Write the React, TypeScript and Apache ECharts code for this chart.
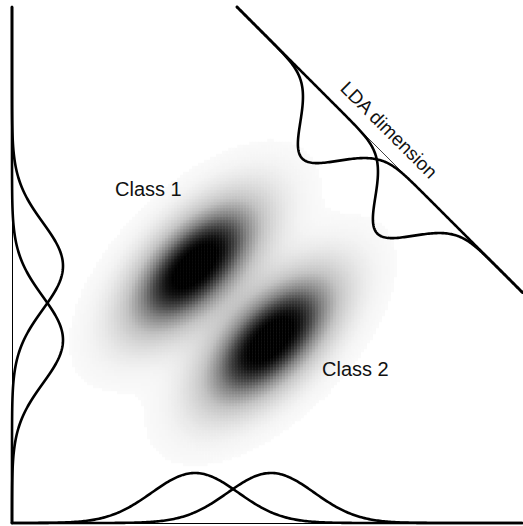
import { useEffect, useRef } from "react";
import * as echarts from "echarts";

// ---------- data ----------
const CLASS_LABELS = ["Class 1", "Class 2"];
const LDA_LABEL = "LDA dimension";
// class centres in the feature plane (plot units)
const MEAN_X = [183, 259];
const MEAN_Y = [257, 183];
// shared within-class spread: s.d. along the (1,1) and (1,-1) principal directions
const SD_MAJOR = [55];
const SD_MINOR = [27];
// peak heights of the drawn marginal densities
const PEAK_BOTTOM = [50];
const PEAK_LEFT = [51];
const PEAK_LDA = [61];
// end points of the LDA dimension line
const LDA_X = [225, 511];
const LDA_Y = [516, 230];
// axis extents
const X_RANGE = [0, 511];
const Y_RANGE = [0, 516];
// grey ramp of the density image: density -> grey level
const RAMP_D = [0.015, 0.05, 0.12, 0.3, 0.5, 0.65, 0.8, 0.88];
const RAMP_G = [250, 244, 230, 194, 130, 70, 18, 0];

// ---------- helpers ----------
const R2 = Math.SQRT1_2;
const sM = SD_MAJOR[0];
const sm = SD_MINOR[0];
const sdAxis = Math.sqrt((sM * sM + sm * sm) / 2);

function density2d(k: number, X: number, Y: number) {
  const dx = X - MEAN_X[k];
  const dy = Y - MEAN_Y[k];
  const a = (dx + dy) * R2;
  const b = (dx - dy) * R2;
  return Math.exp(-0.5 * ((a * a) / (sM * sM) + (b * b) / (sm * sm)));
}
function gauss(v: number, mu: number, sd: number) {
  const z = (v - mu) / sd;
  return Math.exp(-0.5 * z * z);
}
function greyAt(d: number) {
  if (d <= RAMP_D[0]) return RAMP_G[0];
  for (let i = 1; i < RAMP_D.length; i++) {
    if (d <= RAMP_D[i]) {
      const t = (d - RAMP_D[i - 1]) / (RAMP_D[i] - RAMP_D[i - 1]);
      return RAMP_G[i - 1] + t * (RAMP_G[i] - RAMP_G[i - 1]);
    }
  }
  return RAMP_G[RAMP_G.length - 1];
}

function buildOption() {
  // heat map cells
  const NX = 170;
  const NY = 172;
  const cw = (X_RANGE[1] - X_RANGE[0]) / NX;
  const ch = (Y_RANGE[1] - Y_RANGE[0]) / NY;
  const heat: number[][] = [];
  for (let i = 0; i < NX; i++) {
    const X = X_RANGE[0] + (i + 0.5) * cw;
    for (let j = 0; j < NY; j++) {
      const Y = Y_RANGE[0] + (j + 0.5) * ch;
      const d = density2d(0, X, Y) + density2d(1, X, Y);
      if (d >= RAMP_D[0]) heat.push([i, j, d]);
    }
  }
  const xCats = Array.from({ length: NX }, (_, i) => String(i));
  const yCats = Array.from({ length: NY }, (_, j) => String(j));

  const vmMin = RAMP_D[0];
  const vmMax = 1.1;
  const colors: string[] = [];
  const NC = 120;
  for (let k = 0; k < NC; k++) {
    const d = vmMin + ((vmMax - vmMin) * k) / (NC - 1);
    const g = Math.round(greyAt(d));
    colors.push(`rgb(${g},${g},${g})`);
  }

  // marginal curves
  const bottom: number[][][] = [[], []];
  const left: number[][][] = [[], []];
  for (let k = 0; k < 2; k++) {
    for (let X = X_RANGE[0]; X <= X_RANGE[1]; X += 1.5) {
      bottom[k].push([X, PEAK_BOTTOM[0] * gauss(X, MEAN_X[k], sdAxis)]);
    }
    for (let Y = Y_RANGE[0]; Y <= Y_RANGE[1]; Y += 1.5) {
      left[k].push([PEAK_LEFT[0] * gauss(Y, MEAN_Y[k], sdAxis), Y]);
    }
  }

  // LDA projection
  const ux0 = LDA_X[1] - LDA_X[0];
  const uy0 = LDA_Y[1] - LDA_Y[0];
  const L = Math.hypot(ux0, uy0);
  const u = [ux0 / L, uy0 / L];
  const n = [u[1], -u[0]];
  // s.d. of projections on u
  const pv = (u[0] + u[1]) * R2;
  const pw = (u[0] - u[1]) * R2;
  const sdLda = Math.sqrt(sM * sM * pv * pv + sm * sm * pw * pw);
  const sMean = [0, 1].map(
    (k) => (MEAN_X[k] - LDA_X[0]) * u[0] + (MEAN_Y[k] - LDA_Y[0]) * u[1]
  );
  const lda: number[][][] = [[], []];
  for (let k = 0; k < 2; k++) {
    for (let s = 0; s <= L; s += 1) {
      const h = PEAK_LDA[0] * gauss(s, sMean[k], sdLda);
      lda[k].push([LDA_X[0] + s * u[0] + h * n[0], LDA_Y[0] + s * u[1] + h * n[1]]);
    }
  }

  const curve = (data: number[][]) => ({
    type: "line",
    xAxisIndex: 0,
    yAxisIndex: 0,
    data,
    symbol: "none",
    showSymbol: false,
    clip: false,
    silent: true,
    z: 4,
    lineStyle: { color: "#000", width: 2.6, cap: "round", join: "round" },
  });

  const font = "'Liberation Sans', Arial, Helvetica, sans-serif";
  const hidden = {
    axisTick: { show: false },
    axisLabel: { show: false },
    splitLine: { show: false },
  };

  return {
    animation: false,
    grid: [
      { left: 12, right: 0, top: 7, bottom: 3 },
      { left: 12, right: 0, top: 7, bottom: 3 },
    ],
    xAxis: [
      {
        type: "value",
        gridIndex: 0,
        min: X_RANGE[0],
        max: X_RANGE[1],
        axisLine: { show: true, lineStyle: { color: "#000", width: 1 } },
        ...hidden,
      },
      { type: "category", gridIndex: 1, data: xCats, show: false },
    ],
    yAxis: [
      {
        type: "value",
        gridIndex: 0,
        min: Y_RANGE[0],
        max: Y_RANGE[1],
        axisLine: { show: true, lineStyle: { color: "#000", width: 1 } },
        ...hidden,
      },
      { type: "category", gridIndex: 1, data: yCats, show: false },
    ],
    visualMap: {
      type: "continuous",
      show: false,
      seriesIndex: 0,
      dimension: 2,
      min: vmMin,
      max: vmMax,
      inRange: { color: colors },
    },
    series: [
      {
        type: "heatmap",
        xAxisIndex: 1,
        yAxisIndex: 1,
        data: heat,
        progressive: 0,
        silent: true,
        z: 1,
        itemStyle: { borderWidth: 0 },
        emphasis: { disabled: true },
      },
      curve(bottom[0]),
      curve(bottom[1]),
      curve(left[0]),
      curve(left[1]),
      {
        type: "line",
        xAxisIndex: 0,
        yAxisIndex: 0,
        data: [
          [LDA_X[0], LDA_Y[0]],
          [LDA_X[1], LDA_Y[1]],
        ],
        symbol: "none",
        clip: false,
        silent: true,
        z: 3,
        lineStyle: { color: "#444", width: 1 },
      },
      curve(lda[0]),
      curve(lda[1]),
    ],
    graphic: [
      {
        type: "text",
        x: 115,
        y: 189,
        z: 10,
        style: { text: CLASS_LABELS[0], fontSize: 20, fontFamily: font, fill: "#111", align: "left", verticalAlign: "middle" },
      },
      {
        type: "text",
        x: 322,
        y: 369,
        z: 10,
        style: { text: CLASS_LABELS[1], fontSize: 20, fontFamily: font, fill: "#111", align: "left", verticalAlign: "middle" },
      },
      {
        type: "text",
        x: 389,
        y: 130,
        rotation: -Math.PI / 4,
        z: 10,
        style: { text: LDA_LABEL, fontSize: 19, fontFamily: font, fill: "#111", align: "center", verticalAlign: "middle" },
      },
    ],
  };
}

export default function App() {
  const ref = useRef<HTMLDivElement>(null);
  useEffect(() => {
    if (!ref.current) return;
    const chart = echarts.init(ref.current, undefined, { renderer: "svg" });
    chart.setOption(buildOption() as any);
    return () => chart.dispose();
  }, []);
  return (
    <div
      ref={ref}
      style={{ position: "fixed", left: 0, top: 0, width: 523, height: 526, background: "#fff" }}
    />
  );
}
